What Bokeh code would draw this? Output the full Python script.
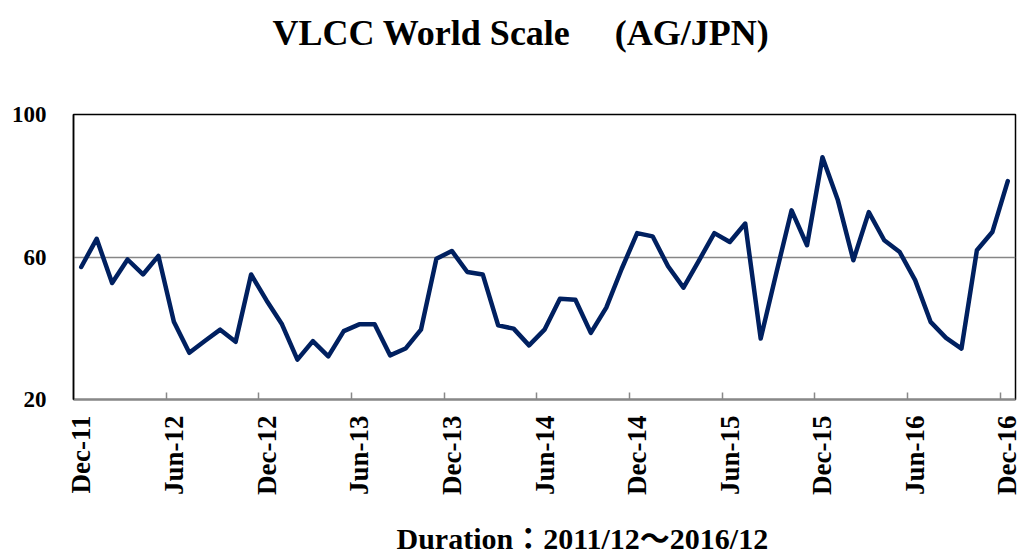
import math
import pandas as pd
from bokeh.plotting import figure
from bokeh.models import FixedTicker, Title
from bokeh.embed import file_html
from bokeh.resources import INLINE

# ---- data ----
months = [d.strftime("%b-%y") for d in pd.date_range("2011-12-01", "2016-12-01", freq="MS")]
ws_values = [57.2, 65.1, 52.7, 59.3, 55.1, 60.3, 41.8, 33.1, 36.4, 39.6,
             36.2, 55.1, 47.8, 41.1, 31.2, 36.4, 32.1, 39.2, 41.1, 41.1,
             32.4, 34.3, 39.6, 59.5, 61.7, 55.8, 55.1, 40.8, 39.9, 35.2,
             39.6, 48.3, 48.0, 38.7, 45.8, 56.7, 66.7, 65.8, 57.4, 51.4,
             59.0, 66.7, 64.2, 69.4, 37.1, 55.3, 73.1, 63.3, 88.0, 75.9,
             59.1, 72.6, 64.7, 61.4, 53.5, 41.8, 37.3, 34.3, 61.9, 67.0, 81.3]
tick_labels = ["Dec-11", "Jun-12", "Dec-12", "Jun-13", "Dec-13", "Jun-14",
               "Dec-14", "Jun-15", "Dec-15", "Jun-16", "Dec-16"]
y_ticks = [20, 60, 100]
title_text = "VLCC World Scale\u3000 (AG/JPN)"
footer_text = "Duration\uff1a2011/12\uff5e2016/12"

idx = list(range(len(months)))
label_pos = [months.index(t) for t in tick_labels]
boundaries = [p - 0.5 for p in label_pos[1:]]

FONT = "'Liberation Serif', 'Noto Sans CJK JP', serif"

p = figure(width=1021, height=556, x_range=(-0.5, len(months) - 0.5), y_range=(20, 100),
           output_backend="svg", toolbar_location=None,
           min_border_left=73, min_border_right=6, min_border_top=114, min_border_bottom=157)

p.line(idx, ws_values, line_color="#002060", line_width=4.5, line_join="round", line_cap="round")

# x axis
p.xaxis.ticker = FixedTicker(ticks=label_pos, minor_ticks=boundaries)
p.xaxis.major_label_overrides = {pos: lab for pos, lab in zip(label_pos, tick_labels)}
p.xaxis.major_label_orientation = math.pi / 2
p.xaxis.major_label_text_font = FONT
p.xaxis.major_label_text_font_style = "bold"
p.xaxis.major_label_text_font_size = "27px"
p.xaxis.major_label_text_color = "black"
p.xaxis.major_label_standoff = 16
p.xaxis.major_tick_line_color = None
p.xaxis.major_tick_in = 0
p.xaxis.major_tick_out = 0
p.xaxis.minor_tick_line_color = "#888888"
p.xaxis.minor_tick_line_width = 1.5
p.xaxis.minor_tick_in = 7
p.xaxis.minor_tick_out = 0
p.xaxis.axis_line_color = "#888888"
p.xaxis.axis_line_width = 2

# y axis
p.yaxis.ticker = FixedTicker(ticks=y_ticks)
p.yaxis.major_label_text_font = FONT
p.yaxis.major_label_text_font_style = "bold"
p.yaxis.major_label_text_font_size = "23px"
p.yaxis.major_label_text_color = "black"
p.yaxis.major_label_standoff = 27
p.yaxis.major_tick_line_color = None
p.yaxis.minor_tick_line_color = None
p.yaxis.major_tick_in = 0
p.yaxis.major_tick_out = 0
p.yaxis.axis_line_color = "black"
p.yaxis.axis_line_width = 1.5

# grid
p.xgrid.grid_line_color = None
p.ygrid.ticker = FixedTicker(ticks=y_ticks)
p.ygrid.grid_line_color = "#868686"
p.ygrid.grid_line_width = 1.5

p.outline_line_color = "black"
p.outline_line_width = 1.5
p.background_fill_color = "white"
p.border_fill_color = "white"

# spacer nearest the frame, then the title further out
p.add_layout(Title(text=" ", text_font_size="1px", standoff=57), "above")
p.add_layout(Title(text=title_text, align="left", offset=199, standoff=0,
                   vertical_align="top",
                   text_font=FONT, text_font_style="bold", text_font_size="36px",
                   text_color="black"), "above")
# below: axis, spacer, footer
p.add_layout(Title(text=" ", text_font_size="1px", standoff=18), "below")
p.add_layout(Title(text=footer_text, align="left", offset=323, standoff=0,
                   vertical_align="bottom",
                   text_font=FONT, text_font_style="bold", text_font_size="30px",
                   text_color="black"), "below")

open("out.html", "w").write(file_html(p, INLINE))
